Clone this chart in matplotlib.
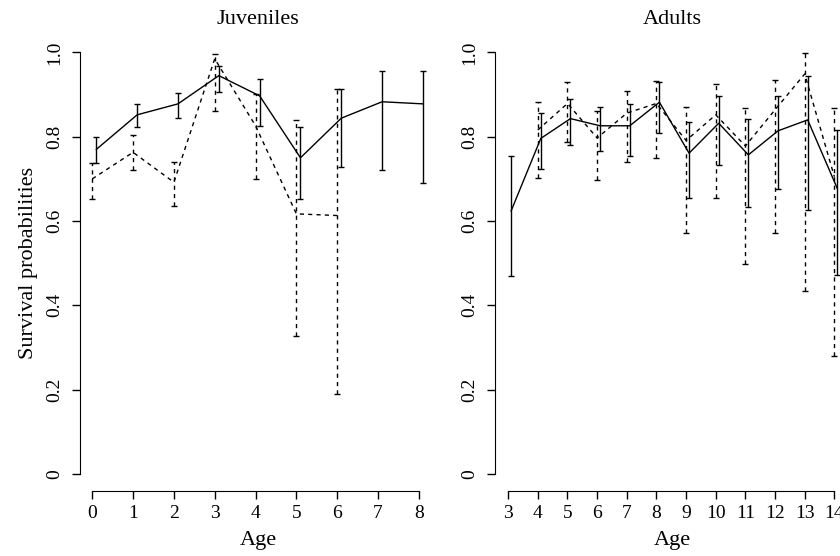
import numpy as np
import matplotlib
matplotlib.use("Agg")
import matplotlib.pyplot as plt

plt.rcParams['font.family'] = ['Liberation Serif', 'DejaVu Serif']

# ==============================
# DATOS
# ==============================

# Juveniles - linea continua
juv_age_a = [0, 1, 2, 3, 4, 5, 6, 7, 8]
juv_est_a = [0.770, 0.852, 0.878, 0.945, 0.897, 0.750, 0.844, 0.883, 0.878]
juv_low_a = [0.737, 0.822, 0.844, 0.905, 0.826, 0.652, 0.727, 0.721, 0.691]
juv_upp_a = [0.800, 0.877, 0.903, 0.969, 0.937, 0.822, 0.913, 0.956, 0.957]

# Juveniles - linea discontinua
juv_age_b = [0, 1, 2, 3, 4, 5, 6]
juv_est_b = [0.700, 0.763, 0.692, 0.985, 0.826, 0.617, 0.613]
juv_low_b = [0.652, 0.720, 0.636, 0.862, 0.699, 0.326, 0.190]
juv_upp_b = [0.737, 0.804, 0.739, 0.997, 0.902, 0.840, 0.913]

# Adultos - linea continua
ad_age_a = [3, 4, 5, 6, 7, 8, 9, 10, 11, 12, 13, 14]
ad_est_a = [0.624, 0.796, 0.843, 0.826, 0.826, 0.882, 0.761, 0.832, 0.757, 0.814, 0.840, 0.677]
ad_low_a = [0.470, 0.724, 0.781, 0.766, 0.755, 0.809, 0.655, 0.733, 0.633, 0.675, 0.626, 0.472]
ad_upp_a = [0.754, 0.856, 0.890, 0.871, 0.877, 0.929, 0.834, 0.897, 0.841, 0.896, 0.944, 0.815]

# Adultos - linea discontinua
ad_age_b = [4, 5, 6, 7, 8, 9, 10, 11, 12, 13, 14]
ad_est_b = [0.816, 0.879, 0.797, 0.856, 0.879, 0.791, 0.852, 0.778, 0.864, 0.949, 0.705]
ad_low_b = [0.702, 0.787, 0.698, 0.740, 0.750, 0.571, 0.655, 0.497, 0.571, 0.435, 0.280]
ad_upp_b = [0.883, 0.930, 0.860, 0.909, 0.933, 0.870, 0.924, 0.868, 0.935, 0.998, 0.868]

OFFSET = 0.1
DASH = (0, (3, 3))

# ==============================
# FUNCIONES
# ==============================

def serie(ax, edad, est, low, upp, discontinua, desplazar):
    x = np.array(edad, dtype=float) + (OFFSET if desplazar else 0)
    y = np.array(est)
    yerr = [y - np.array(low), np.array(upp) - y]
    ls = DASH if discontinua else '-'
    eb = ax.errorbar(x, y, yerr=yerr, fmt='none', ecolor='black',
                     elinewidth=1.0, capsize=2, capthick=1.0)
    eb[2][0].set_linestyle(ls)
    ax.plot(x, y, color='black', lw=1.0, linestyle=ls)


def estilo(ax, xmin, xmax, titulo):
    ax.set_ylim(-0.04, 1.04)
    for s in ['top', 'right']:
        ax.spines[s].set_visible(False)
    ax.spines['left'].set_bounds(0, 1)
    ax.spines['bottom'].set_bounds(xmin, xmax)
    ax.set_yticks([0, 0.2, 0.4, 0.6, 0.8, 1.0])
    ax.set_yticklabels(['0', '0.2', '0.4', '0.6', '0.8', '1.0'],
                       rotation=90, va='center')
    ax.set_xticks(range(xmin, xmax + 1))
    ax.tick_params(direction='out', length=6, width=1.0, labelsize=14, pad=4)
    ax.tick_params(axis='y', pad=6)
    ax.set_xlabel('Age', fontsize=16, labelpad=7)
    ax.set_title(titulo, fontsize=16, pad=8)


# ==============================
# FIGURA
# ==============================

W, H = 840, 556
fig = plt.figure(figsize=(W / 100, H / 100), dpi=100)

bottom = (H - 490.7) / H
height = (490.7 - 35.6) / H

ax1 = fig.add_axes([80 / W, bottom, (436 - 80) / W, height])
serie(ax1, juv_age_b, juv_est_b, juv_low_b, juv_upp_b, True, False)
serie(ax1, juv_age_a, juv_est_a, juv_low_a, juv_upp_a, False, True)
ax1.set_xlim(-0.30, 8.42)
estilo(ax1, 0, 8, 'Juveniles')
ax1.set_ylabel('Survival probabilities', fontsize=16, labelpad=6)

ax2 = fig.add_axes([495 / W, bottom, (850.5 - 495) / W, height])
serie(ax2, ad_age_b, ad_est_b, ad_low_b, ad_upp_b, True, False)
serie(ax2, ad_age_a, ad_est_a, ad_low_a, ad_upp_a, False, True)
ax2.set_xlim(2.556, 14.544)
estilo(ax2, 3, 14, 'Adults')

fig.savefig('out.png', dpi=100)
